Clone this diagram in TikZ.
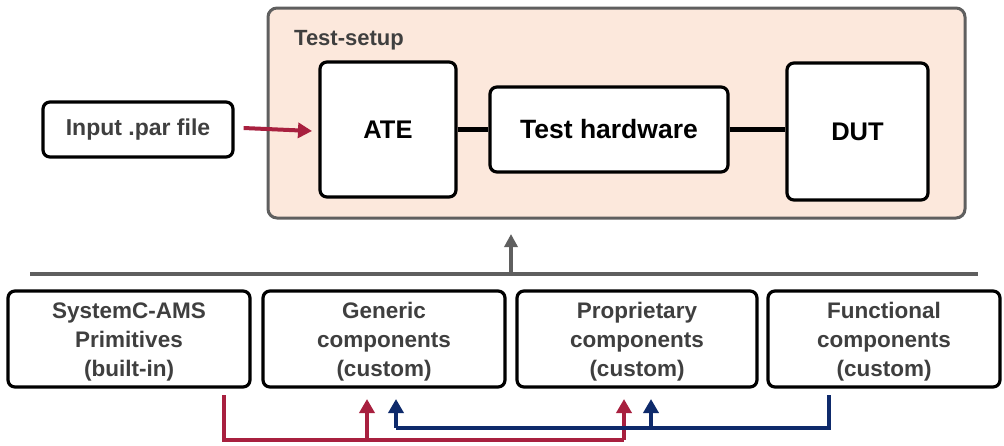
\documentclass[tikz,border=0pt]{standalone}
\usepackage{fontspec}
\setmainfont{Liberation Sans}
\usetikzlibrary{arrows.meta}
\definecolor{redc}{HTML}{A8203F}
\definecolor{bluec}{HTML}{0E2A6B}
\definecolor{grayc}{HTML}{5F5F5F}
\definecolor{txtc}{HTML}{3F3F3F}
\definecolor{fillc}{HTML}{FCE8DC}
\tikzset{
  box/.style={draw=black, line width=3.2pt, rounded corners=7pt, fill=white, inner sep=0pt, align=center, font=\fontsize{22.5}{29}\selectfont\bfseries, text=txtc},
  btext/.style={inner sep=0pt, align=center, font=\fontsize{22.5}{29}\selectfont\bfseries, text=txtc},
  bigbox/.style={box, text=black, font=\fontsize{26.5}{30}\selectfont\bfseries},
  conn/.style={line width=4.5pt},
  redarr/.style={draw=redc, line width=4pt, -{Triangle[length=14pt,width=15pt]}},
  bluearr/.style={draw=bluec, line width=4pt, -{Triangle[length=14pt,width=15pt]}},
}
\begin{document}
\begin{tikzpicture}[x=1pt,y=-1pt]
\useasboundingbox (0,0) rectangle (1004,445);
% test-setup container
\node[draw=grayc, line width=3pt, rounded corners=9pt, fill=fillc, minimum width=697pt, minimum height=210pt, inner sep=0pt] (setup) at (616.5,113) {};
\node[anchor=base west, inner sep=0pt, text=txtc, font=\fontsize{22}{24}\selectfont\bfseries] (setuplbl) at (294,45) {Test-setup};
\node[bigbox, minimum width=136pt, minimum height=135pt, font=\fontsize{25.5}{30}\selectfont\bfseries] (ate) at (388,129.5) {\raisebox{-1.5pt}{ATE}};
\node[bigbox, minimum width=238pt, minimum height=85pt] (th) at (609,129.5) {Test hardware};
\node[bigbox, minimum width=141pt, minimum height=137pt, font=\fontsize{25.5}{30}\selectfont\bfseries] (dut) at (857.5,131.5) {DUT};
\draw[conn] (ate.east) -- (th.west);
\draw[conn] (th.east) -- (th.east -| dut.west);
% input
\node[box, minimum width=190pt, minimum height=55pt, font=\fontsize{23}{25}\selectfont\bfseries] (inp) at (138,129.5) {Input .par file};
\coordinate (inend) at (312,131);
\draw[redarr] (inp.east)+(9pt,1.5pt) coordinate (inst) -- (inend);
% bus line
\coordinate (busl) at (30,274);
\coordinate (busr) at (978,274);
\coordinate (busm) at (511,274);
\coordinate (busup) at (511,234);
\draw[grayc, line width=4.5pt] (busl) -- (busr);
\draw[grayc, line width=4pt, -{Triangle[length=13pt,width=13pt]}] (busm) -- (busup);
% bottom boxes
\node[box, minimum width=242pt, minimum height=96pt] (b1) at (129,339) {};
\node[box, minimum width=242pt, minimum height=96pt] (b2) at (384,339) {};
\node[box, minimum width=240pt, minimum height=96pt] (b3) at (637,339) {};
\node[box, minimum width=232pt, minimum height=96pt] (b4) at (884,339) {};
\node[btext] (b1t) at ([yshift=-2.5pt]b1.center) {SystemC-AMS\\Primitives\\(built-in)};
\node[btext] (b2t) at ([yshift=-2.5pt]b2.center) {Generic\\components\\(custom)};
\node[btext] (b3t) at ([yshift=-2.5pt]b3.center) {Proprietary\\components\\(custom)};
\node[btext] (b4t) at ([yshift=-2.5pt]b4.center) {Functional\\components\\(custom)};
% red connector
\coordinate (r0) at (224,395);
\coordinate (r1) at (224,440);
\coordinate (r2) at (624,440);
\coordinate (r3) at (367,440);
\draw[redc, line width=4pt] (r0) -- (r1) -- (r2);
\draw[redarr] (r3) -- (367,399) coordinate (r3t);
\draw[redarr] (r2) -- (624,399) coordinate (r2t);
% blue connector
\coordinate (u0) at (829,395);
\coordinate (u1) at (829,428);
\coordinate (u2) at (396,428);
\coordinate (u3) at (651,428);
\draw[bluec, line width=4pt] (u0) -- (u1) -- (u2);
\draw[bluearr] (u2) -- (396,399) coordinate (u2t);
\draw[bluearr] (u3) -- (651,399) coordinate (u3t);
\end{tikzpicture}
\end{document}
